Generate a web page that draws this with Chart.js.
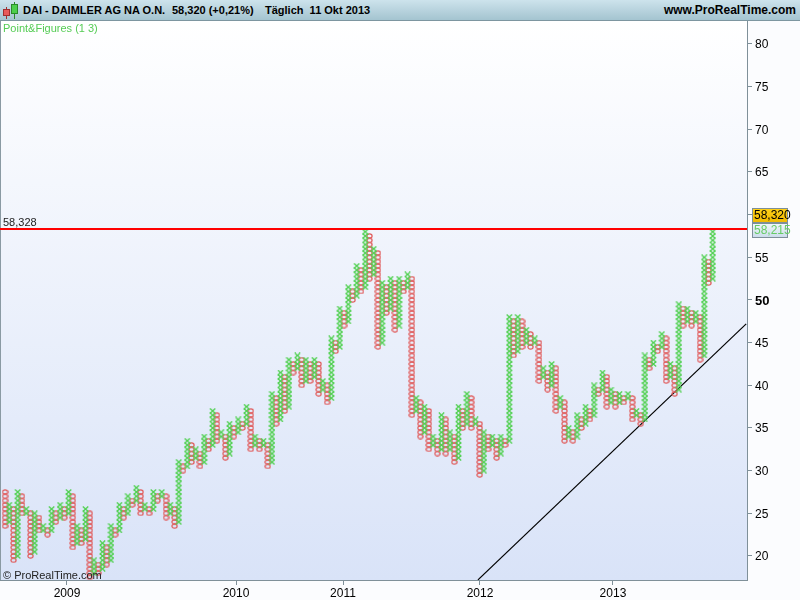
<!DOCTYPE html>
<html><head><meta charset="utf-8">
<script src="https://cdn.jsdelivr.net/npm/chart.js@4/dist/chart.umd.min.js"></script>
<style>
body{margin:0;background:#fff;}
#wrap{position:relative;width:800px;height:600px;overflow:hidden;font-family:Arial,'Liberation Sans',sans-serif;}
#c{position:absolute;left:0;top:0;}
#hdr{position:absolute;left:0;top:0;width:800px;height:20px;background:linear-gradient(#cde3ec,#a4c4d0);border-bottom:1px solid #7d96a0;font-weight:bold;font-size:11px;color:#000;}
#hdr span{position:absolute;top:0;line-height:21px;white-space:pre;}
.wick{position:absolute;width:1px;}
.body{position:absolute;box-sizing:border-box;}
#pf{position:absolute;left:3px;top:21px;font-size:11px;color:#55cc55;line-height:15px;}
#copy{position:absolute;left:3px;top:568px;font-size:11px;color:#222;line-height:14px;}
</style></head>
<body><div id="wrap">
<canvas id="c" width="800" height="600"></canvas>
<div id="hdr">
 <div class="wick" style="left:6px;top:7px;height:12px;background:#a03030"></div>
 <div class="body" style="left:3px;top:9px;width:7px;height:7px;background:#e85a5a;border:1px solid #a03030"></div>
 <div class="wick" style="left:14px;top:2px;height:17px;background:#2a8a2a"></div>
 <div class="body" style="left:11px;top:4px;width:7px;height:10px;background:#4ccf4c;border:1px solid #2a8a2a"></div>
 <span style="left:23px">DAI - DAIMLER AG NA O.N.</span>
 <span style="left:172px">58,320 (+0,21%)</span>
 <span style="left:265px">Täglich  11 Okt 2013</span>
 <span style="right:4px;font-size:12px">www.ProRealTime.com</span>
</div>
<div id="pf">Point&amp;Figures (1 3)</div>
<div id="copy">© ProRealTime.com</div>
</div>
<script>
// Point & Figure columns (box size 0.5, reversal 3). Odd columns (1st, 3rd, ...) are O, even are X.
const colHigh = [27.5,26.0,25.5,27.5,27.0,25.5,25.0,25.0,24.5,23.5,23.0,25.5,25.0,26.0,25.5,27.5,27.0,23.5,23.0,25.5,
 25.0,19.5,19.0,21.5,21.0,23.5,23.0,26.0,25.5,27.0,26.5,28.0,27.5,26.0,25.5,27.5,27.0,27.5,27.0,26.0,
 25.5,31.0,30.5,33.5,33.0,32.5,32.0,34.0,33.5,37.0,36.5,34.5,34.0,35.5,35.0,36.0,35.5,37.5,37.0,34.0,
 33.5,33.5,33.0,39.0,38.5,41.5,41.0,43.0,42.5,43.5,43.0,43.0,42.5,43.0,42.5,40.5,40.0,45.5,45.0,49.0,
 48.5,51.5,51.0,54.0,53.5,58.0,57.5,56.0,55.5,52.0,51.5,52.5,52.0,52.5,52.0,53.0,52.5,38.5,38.0,37.5,
 37.0,34.0,33.5,36.5,36.0,34.5,34.0,37.5,37.0,39.0,38.5,36.0,35.5,34.5,34.0,34.0,33.5,34.0,33.5,48.0,
 47.5,48.0,47.5,46.5,46.0,45.5,45.0,42.0,41.5,42.5,42.0,38.5,38.0,35.0,34.5,36.5,36.0,37.5,37.0,40.0,
 39.5,41.5,41.0,39.5,39.0,39.0,38.5,39.0,38.5,37.0,36.5,43.5,43.0,45.0,44.5,46.0,45.5,42.5,42.0,49.5,
 49.0,49.0,48.5,48.5,48.0,55.0,54.5,58.0];
const colLow = [23.5,24.0,19.5,20.0,25.0,25.0,20.0,20.5,23.0,23.0,22.5,23.0,24.0,24.5,24.5,25.0,21.0,21.5,21.5,22.0,
 17.5,18.0,18.0,18.5,19.0,19.5,22.5,23.0,24.5,25.0,26.0,26.5,25.0,25.5,25.0,25.5,26.5,27.0,24.5,25.0,
 23.5,24.0,30.0,30.5,31.0,31.5,30.5,31.0,32.5,33.0,33.5,34.0,31.5,32.0,34.0,34.5,35.0,35.5,32.5,33.0,
 32.5,33.0,30.5,31.0,35.5,36.0,37.0,37.5,41.5,42.0,40.0,40.5,40.5,41.0,39.0,39.5,38.0,38.5,44.0,44.5,
 47.0,47.5,50.0,50.5,51.0,51.5,52.5,53.0,44.5,45.0,48.5,49.0,46.5,47.0,51.0,51.5,36.5,37.0,34.0,34.5,
 32.5,33.0,32.0,32.5,32.0,32.5,31.0,31.5,35.0,35.5,35.0,35.5,29.5,30.0,32.5,33.0,31.5,32.0,33.0,33.5,
 43.5,44.0,44.5,45.0,44.5,45.0,40.5,41.0,39.5,40.0,37.0,37.5,33.5,34.0,33.5,34.0,35.0,35.5,36.0,36.5,
 39.0,39.5,37.5,38.0,37.5,38.0,38.0,38.5,36.0,36.5,35.5,36.0,42.0,42.5,44.0,44.5,40.5,41.0,39.0,39.5,
 47.0,47.5,47.0,47.5,43.0,43.5,52.0,52.5];
const boxSize = 0.5;
const yTicks = [20,25,30,35,40,45,50,55,60,65,70,75,80];
const yearLabels = ['2009','2010','2011','2012','2013'];
const yearCols = [15.63,55.51,80.76,113.08,144.46];
const resistance = 58.328;
const lastPrice = 58.320;
const pfPrice = 58.215;
const trendLine = [{x:112.6,y:17.2},{x:175.9,y:47.2}];

const FAM = "Arial, 'Liberation Sans', sans-serif";
const xPts = [], oPts = [];
for (let i = 0; i < colHigh.length; i++) {
  const col = i + 1;
  const target = (i % 2 === 0) ? oPts : xPts;
  for (let p = colLow[i]; p <= colHigh[i] + 1e-6; p += boxSize) target.push({x: col, y: p});
}

function markO(){
  const c = document.createElement('canvas'); c.width = 7; c.height = 6;
  const g = c.getContext('2d'); g.strokeStyle = '#e05a5a'; g.lineWidth = 1.2;
  g.beginPath(); g.ellipse(3.5, 3, 2.6, 2.1, 0, 0, Math.PI*2); g.stroke(); return c;
}
function markX(){
  const c = document.createElement('canvas'); c.width = 7; c.height = 6;
  const g = c.getContext('2d'); g.strokeStyle = '#4fd04f'; g.lineWidth = 1.3;
  g.beginPath(); g.moveTo(0.8,0.6); g.lineTo(6.2,5.4); g.moveTo(6.2,0.6); g.lineTo(0.8,5.4); g.stroke(); return c;
}

const deco = {
  id: 'deco',
  beforeDraw(chart){
    const {ctx, chartArea:a} = chart;
    ctx.save();
    ctx.fillStyle = '#fbfcfe'; ctx.fillRect(0,0,800,600);
    const gr = ctx.createLinearGradient(0, a.top, 0, a.bottom);
    gr.addColorStop(0, '#ffffff'); gr.addColorStop(1, '#d9e3f8');
    ctx.fillStyle = gr; ctx.fillRect(a.left, a.top, a.right - a.left, a.bottom - a.top);
    ctx.fillStyle = '#8a9aa3'; ctx.fillRect(0, a.top, 1, a.bottom - a.top);
    ctx.restore();
  },
  afterDatasetsDraw(chart){
    const {ctx, chartArea:a, scales} = chart;
    const y = Math.round(scales.y.getPixelForValue(resistance));
    ctx.save();
    ctx.fillStyle = '#ff0000'; ctx.fillRect(a.left, y - 1, a.right - a.left, 2);
    ctx.fillStyle = '#222'; ctx.font = '11px ' + FAM; ctx.textBaseline = 'alphabetic';
    ctx.fillText('58,328', 3, y - 3);
    ctx.restore();
  },
  afterDraw(chart){
    const {ctx, chartArea:a, scales} = chart;
    const yp = Math.round(scales.y.getPixelForValue(pfPrice));
    const x0 = a.right + 5, w = 36, h = 15;
    ctx.save();
    let b2 = yp - 7;
    let g2 = ctx.createLinearGradient(0, b2, 0, b2 + h);
    g2.addColorStop(0, '#f4f8fc'); g2.addColorStop(1, '#c9dbea');
    ctx.fillStyle = g2; ctx.fillRect(x0, b2, w, h);
    ctx.strokeStyle = '#7d8f99'; ctx.lineWidth = 1; ctx.strokeRect(x0 + 0.5, b2 + 0.5, w - 1, h - 1);
    ctx.fillStyle = '#66cc66'; ctx.font = '12px ' + FAM; ctx.textBaseline = 'middle';
    ctx.fillText('58,215', x0 + 2, b2 + h/2 + 0.5);
    let b1 = b2 - h;
    let g1 = ctx.createLinearGradient(0, b1, 0, b1 + h);
    g1.addColorStop(0, '#ffd21a'); g1.addColorStop(1, '#f0b800');
    ctx.fillStyle = g1; ctx.fillRect(x0, b1, w, h);
    ctx.strokeStyle = '#7d8f99'; ctx.strokeRect(x0 + 0.5, b1 + 0.5, w - 1, h - 1);
    ctx.fillStyle = '#000';
    ctx.fillText('58,320', x0 + 2, b1 + h/2 + 0.5);
    ctx.restore();
  }
};

new Chart(document.getElementById('c'), {
  type: 'scatter',
  data: { datasets: [
    { type:'line', data: trendLine, borderColor:'#000', borderWidth:1.2, pointRadius:0, order:3 },
    { data: oPts, pointStyle: markO(), pointRadius: 3, order:2 },
    { data: xPts, pointStyle: markX(), pointRadius: 3, order:1 }
  ]},
  options: {
    responsive:false, animation:false, events:[], devicePixelRatio:1,
    layout:{ autoPadding:false, padding:{top:21, left:0, right:0, bottom:0} },
    plugins:{ legend:{display:false}, tooltip:{enabled:false} },
    scales:{
      x:{ type:'linear', position:'bottom', min:-0.18, max:176.09,
        afterFit(s){ s.height = 20; s.paddingLeft = 0; s.paddingRight = 0; },
        afterBuildTicks(s){ s.ticks = yearCols.map(v => ({value:v})); },
        ticks:{ autoSkip:false, maxRotation:0, padding:1, color:'#000', font:{size:12, family:FAM},
          callback:(v) => yearLabels[yearCols.indexOf(v)] },
        grid:{ drawOnChartArea:false, tickLength:5, color:'#7f9099' },
        border:{ color:'#7f9099' }
      },
      y:{ type:'linear', position:'right', min:17.185, max:82.695,
        afterFit(s){ s.width = 53; },
        afterBuildTicks(s){ s.ticks = yTicks.map(v => ({value:v})); },
        ticks:{ padding:3, color:'#000', crossAlign:'near', labelOffset:1,
          font:(c) => ({size: (c.tick && c.tick.value === 50) ? 13 : 12, weight: (c.tick && c.tick.value === 50) ? 'bold' : 'normal', family:FAM}),
          callback:(v) => String(v) },
        grid:{ drawOnChartArea:false, tickLength:5, color:'#7f9099' },
        border:{ color:'#7f9099' }
      }
    }
  },
  plugins:[deco]
});
</script>
</body></html>
